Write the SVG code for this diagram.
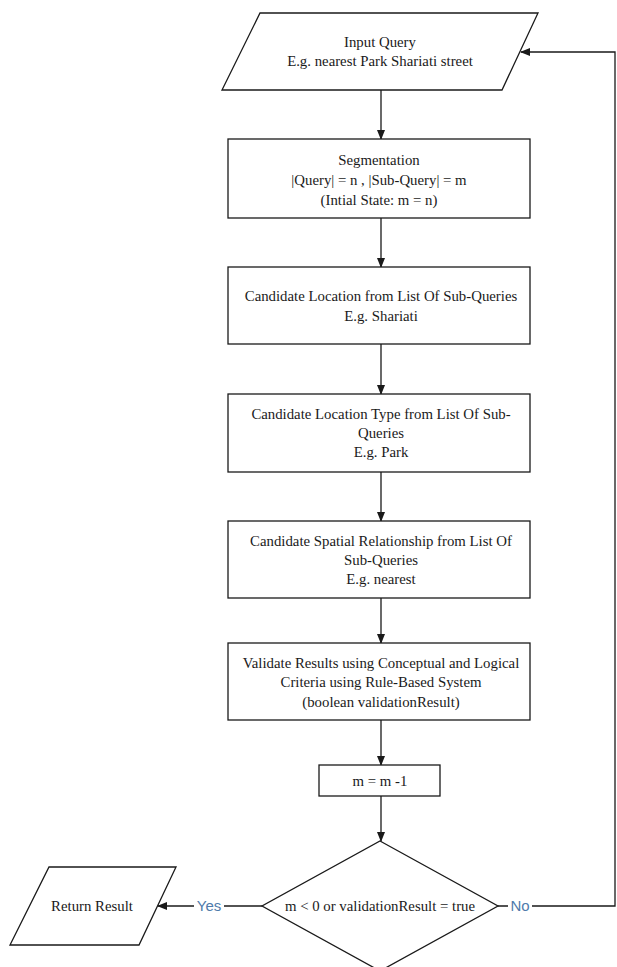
<svg xmlns="http://www.w3.org/2000/svg" width="617" height="967" viewBox="0 0 617 967">
<style>
.s{fill:#fff;stroke:#1a1a1a;stroke-width:1.3}
.t{font-family:"Liberation Serif","Times New Roman",serif;font-size:14.8px;fill:#1a1a1a;text-anchor:middle}
.l{font-family:"Liberation Sans",Arial,sans-serif;font-size:15px;fill:#4f7bab;text-anchor:middle}
.c{fill:none;stroke:#1a1a1a;stroke-width:1.3}
</style>
<defs>
<marker id="a" markerWidth="10" markerHeight="8" refX="9" refY="4" orient="auto" markerUnits="userSpaceOnUse">
<path d="M0,0 L10,4 L0,8 Z" fill="#1a1a1a"/>
</marker>
</defs>
<rect width="617" height="967" fill="#fff"/>
<g id="connectors">
<line class="c" x1="381" y1="90" x2="381" y2="139" marker-end="url(#a)"/>
<line class="c" x1="381" y1="218" x2="381" y2="267" marker-end="url(#a)"/>
<line class="c" x1="381" y1="344" x2="381" y2="394" marker-end="url(#a)"/>
<line class="c" x1="381" y1="472" x2="381" y2="521" marker-end="url(#a)"/>
<line class="c" x1="381" y1="598" x2="381" y2="643" marker-end="url(#a)"/>
<line class="c" x1="381" y1="720" x2="381" y2="765" marker-end="url(#a)"/>
<line class="c" x1="381" y1="796" x2="381" y2="841" marker-end="url(#a)"/>
<polyline class="c" points="262,906 158,906" marker-end="url(#a)"/>
<polyline class="c" points="498,906 615,906 615,52 521,52" marker-end="url(#a)"/>
<rect x="194" y="897" width="30" height="18" fill="#fff"/>
<text class="l" x="209" y="911">Yes</text>
<rect x="508" y="897" width="24" height="18" fill="#fff"/>
<text class="l" x="520" y="911">No</text>
</g>
<g id="input">
<polygon class="s" points="260,13 538,13 502,90 222,90"/>
<text class="t" x="380" y="47">Input Query</text>
<text class="t" x="380" y="66">E.g. nearest Park Shariati street</text>
</g>
<g id="segmentation">
<rect class="s" x="228" y="139" width="302" height="79"/>
<text class="t" x="379" y="165">Segmentation</text>
<text class="t" x="379" y="185">|Query| = n , |Sub-Query| = m</text>
<text class="t" x="379" y="205">(Intial State: m = n)</text>
</g>
<g id="location">
<rect class="s" x="228" y="267" width="302" height="77"/>
<text class="t" x="381" y="301">Candidate Location from List Of Sub-Queries</text>
<text class="t" x="381" y="321">E.g. Shariati</text>
</g>
<g id="type">
<rect class="s" x="228" y="394" width="302" height="78"/>
<text class="t" x="381" y="419">Candidate Location Type from List Of Sub-</text>
<text class="t" x="381" y="438">Queries</text>
<text class="t" x="381" y="457">E.g. Park</text>
</g>
<g id="spatial">
<rect class="s" x="228" y="521" width="302" height="77"/>
<text class="t" x="381" y="546">Candidate Spatial Relationship from List Of</text>
<text class="t" x="381" y="565">Sub-Queries</text>
<text class="t" x="381" y="584">E.g. nearest</text>
</g>
<g id="validate">
<rect class="s" x="228" y="643" width="302" height="77"/>
<text class="t" x="381" y="668">Validate Results using Conceptual and Logical</text>
<text class="t" x="381" y="687">Criteria using Rule-Based System</text>
<text class="t" x="381" y="707">(boolean validationResult)</text>
</g>
<g id="decrement">
<rect class="s" x="319" y="765" width="121" height="31"/>
<text class="t" x="380" y="786">m = m -1</text>
</g>
<g id="decision">
<polygon class="s" points="380,841 498,906 380,971 262,906"/>
<text class="t" x="380" y="911" font-size="15.5px">m  &lt; 0 or validationResult = true</text>
</g>
<g id="return">
<polygon class="s" points="49,867 176,867 139,945 10,945"/>
<text class="t" x="92" y="911" font-size="15.5px">Return Result</text>
</g>
</svg>
